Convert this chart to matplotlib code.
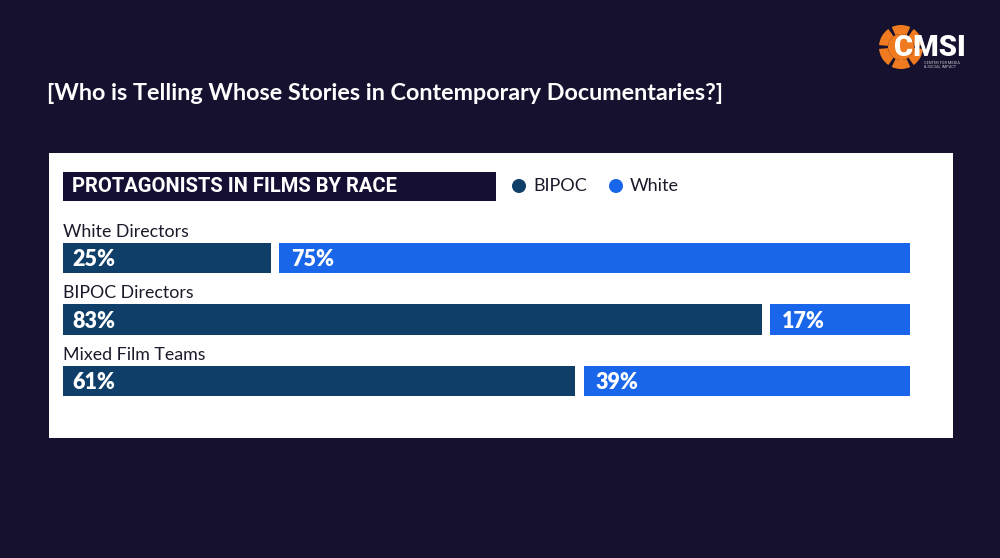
import matplotlib.pyplot as plt
from matplotlib.patches import Rectangle, Circle, Wedge

groups = ["White Directors", "BIPOC Directors", "Mixed Film Teams"]
bipoc = [25, 83, 61]
white = [75, 17, 39]
series_names = ["BIPOC", "White"]

BG = "#15112f"
NAVY = "#140f33"
C_BIPOC = "#0f3e68"
C_WHITE = "#1a66ea"
ORANGE = "#f07a1f"
INK = "#1a1a2a"

W, H = 1000, 558
fig = plt.figure(figsize=(W / 100, H / 100), dpi=100, facecolor=BG)

# background layer in pixel coordinates (y down)
bg = fig.add_axes([0, 0, 1, 1], zorder=0)
bg.set_xlim(0, W)
bg.set_ylim(H, 0)
bg.axis("off")

bg.add_patch(Rectangle((49, 153), 953 - 49, 438 - 153, facecolor="white", edgecolor="none"))
bg.add_patch(Rectangle((63, 172), 496 - 63, 201 - 172, facecolor=NAVY, edgecolor="none"))
bg.text(72, 187, "PROTAGONISTS IN FILMS BY RACE", color="white",
        fontsize=14.5, fontweight="bold", family="Roboto", va="center", ha="left")

bg.text(47, 93, "[Who is Telling Whose Stories in Contemporary Documentaries?]",
        color="white", fontsize=16.8, fontweight="bold", family="Lato",
        va="center", ha="left")

for name, color, cx in zip(series_names, [C_BIPOC, C_WHITE], [519, 616]):
    bg.add_patch(Circle((cx, 186), 7, facecolor=color, edgecolor="none"))
    bg.text(cx + 14, 186, name, color=INK, fontsize=13, family="Lato",
            va="center", ha="left")

# logo
for k in range(6):
    bg.add_patch(Wedge((901, 47), 22, k * 60 + 5, k * 60 + 55, width=9,
                       facecolor=ORANGE, edgecolor="none"))
bg.add_patch(Circle((901, 47), 13, facecolor=ORANGE, edgecolor="none"))
bg.text(894, 48, "CMSI", color="white", fontsize=21, fontweight="heavy",
        family="Roboto", va="center", ha="left")
bg.text(924, 61, "CENTER FOR MEDIA\n& SOCIAL IMPACT", color="#cccccc", fontsize=2.8,
        family="Roboto", va="top", ha="left", linespacing=1.1)

# bars
ax = fig.add_axes([63 / W, 1 - 400 / H, (910 - 63) / W, (400 - 215) / H], zorder=1)
ax.patch.set_alpha(0)
ax.set_xlim(0, 100)
ax.set_ylim(2.309, -0.699)
ax.axis("off")
gap = 0.5
bar_h = 0.49
for i, (g, b, w) in enumerate(zip(groups, bipoc, white)):
    ax.barh(i, b - gap, left=0, height=bar_h, color=C_BIPOC)
    ax.barh(i, w - gap, left=b + gap, height=bar_h, color=C_WHITE)
    ax.text(0, i - 0.345, g, color=INK, fontsize=12.8, family="Lato",
            va="baseline", ha="left")
    ax.text(1.1, i + 0.03, f"{b}%", color="white", fontsize=15.5, fontweight="heavy",
            family="Lato", va="center", ha="left")
    ax.text(b + gap + 1.4, i + 0.03, f"{w}%", color="white", fontsize=15.5,
            fontweight="heavy", family="Lato", va="center", ha="left")

fig.savefig("out.png", dpi=100, facecolor=BG)
